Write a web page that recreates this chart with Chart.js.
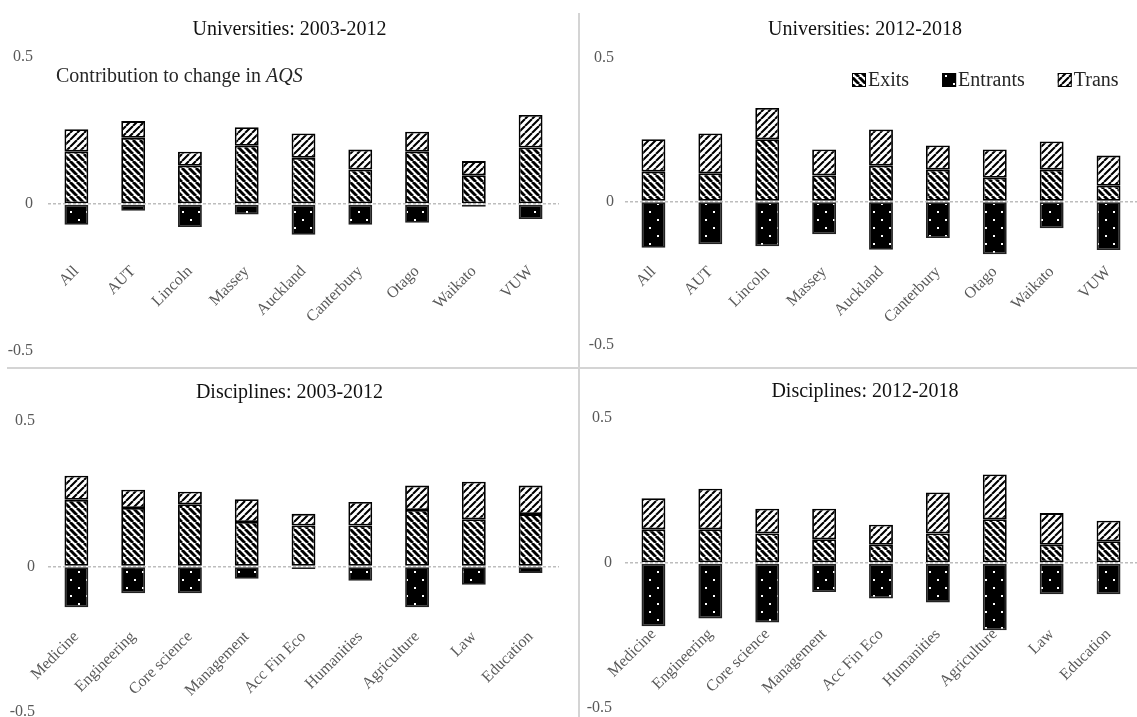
<!DOCTYPE html>
<html>
<head>
<meta charset="utf-8">
<script src="https://cdn.jsdelivr.net/npm/chart.js@4.4.0/dist/chart.umd.min.js"></script>
<style>
  html, body { margin: 0; padding: 0; background: #fff; }
  #fig { position: relative; width: 1137px; height: 717px; overflow: hidden; background: #fff; }
  .panel { position: absolute; overflow: hidden; }
  .panel canvas { position: absolute; left: 0; top: 0; }
  .rule { position: absolute; background: #d4d4d4; }
</style>
</head>
<body>
<div id="fig">
  <div class="panel" style="left:0;top:0;width:579px;height:368px"><canvas id="c1" width="579" height="400"></canvas></div>
  <div class="panel" style="left:579px;top:0;width:558px;height:368px"><canvas id="c2" width="572" height="400"></canvas></div>
  <div class="panel" style="left:0;top:368px;width:579px;height:349px"><canvas id="c3" width="579" height="390"></canvas></div>
  <div class="panel" style="left:579px;top:368px;width:558px;height:349px"><canvas id="c4" width="572" height="390"></canvas></div>
  <div class="rule" style="left:578px;top:13px;width:2px;height:704px"></div>
  <div class="rule" style="left:7px;top:367px;width:1130px;height:2px"></div>
</div>
<script>
// Categories
const universities = ['All', 'AUT', 'Lincoln', 'Massey', 'Auckland', 'Canterbury', 'Otago', 'Waikato', 'VUW'];
const disciplines = ['Medicine', 'Engineering', 'Core science', 'Management', 'Acc Fin Eco', 'Humanities', 'Agriculture', 'Law', 'Education'];

// Series labels
const seriesNames = ['Exits', 'Entrants', 'Trans'];

// Y axis ticks
const yTicks = [-0.5, 0, 0.5];

// Universities: 2003-2012
const uniExits0312    = [0.178, 0.225, 0.130, 0.198, 0.157, 0.117, 0.178, 0.098, 0.192];
const uniEntrants0312 = [-0.071, -0.023, -0.078, -0.036, -0.105, -0.071, -0.064, -0.009, -0.051];
const uniTrans0312    = [0.076, 0.057, 0.048, 0.063, 0.083, 0.068, 0.068, 0.048, 0.111];

// Universities: 2012-2018
const uniExits1218    = [0.104, 0.098, 0.217, 0.091, 0.125, 0.111, 0.083, 0.111, 0.055];
const uniEntrants1218 = [-0.161, -0.149, -0.156, -0.114, -0.168, -0.127, -0.184, -0.093, -0.169];
const uniTrans1218    = [0.113, 0.139, 0.109, 0.090, 0.126, 0.084, 0.098, 0.098, 0.105];

// Disciplines: 2003-2012
const discExits0312    = [0.229, 0.201, 0.214, 0.153, 0.141, 0.141, 0.194, 0.162, 0.180];
const discEntrants0312 = [-0.140, -0.092, -0.092, -0.042, -0.009, -0.049, -0.140, -0.063, -0.022];
const discTrans0312    = [0.083, 0.063, 0.043, 0.078, 0.040, 0.081, 0.084, 0.129, 0.098];

// Disciplines: 2012-2018
const discExits1218    = [0.116, 0.116, 0.102, 0.082, 0.063, 0.102, 0.151, 0.063, 0.075];
const discEntrants1218 = [-0.218, -0.191, -0.205, -0.100, -0.122, -0.136, -0.232, -0.108, -0.108];
const discTrans1218    = [0.107, 0.140, 0.085, 0.105, 0.069, 0.141, 0.154, 0.109, 0.071];

const SERIF = "'Liberation Serif', 'Times New Roman', serif";
Chart.defaults.font.family = SERIF;

// Fill patterns for the three components
function stripePattern(dir, lineW) {
  const s = 7;
  const c = document.createElement('canvas');
  c.width = s; c.height = s;
  const g = c.getContext('2d');
  g.fillStyle = '#fff';
  g.fillRect(0, 0, s, s);
  g.strokeStyle = '#000';
  g.lineWidth = lineW;
  g.beginPath();
  for (let k = -1; k <= 1; k++) {
    const x = k * s;
    if (dir === 'back') { g.moveTo(x, 0); g.lineTo(x + s, s); }
    else { g.moveTo(x, s); g.lineTo(x + s, 0); }
  }
  g.stroke();
  return g.createPattern(c, 'repeat');
}
function dotPattern() {
  const s = 16;
  const c = document.createElement('canvas');
  c.width = s; c.height = s;
  const g = c.getContext('2d');
  g.fillStyle = '#000';
  g.fillRect(0, 0, s, s);
  g.fillStyle = '#fff';
  g.fillRect(6, 3, 2, 2);
  g.fillRect(14, 11, 2, 2);
  return g.createPattern(c, 'repeat');
}
const exitsFill = stripePattern('back', 2.9);
const transFill = stripePattern('fwd', 2.1);
const entrantsFill = dotPattern();

// Series key drawn inside the plot area
const seriesKey = {
  id: 'seriesKey',
  afterDraw(chart, args, opts) {
    if (!opts || !opts.show) return;
    const ctx = chart.ctx;
    ctx.save();
    ctx.font = '20px ' + SERIF;
    ctx.textBaseline = 'middle';
    let x = opts.x;
    const y = opts.y;
    chart.data.datasets.forEach(ds => {
      ctx.fillStyle = ds.backgroundColor;
      ctx.fillRect(x, y - 7, 14, 14);
      ctx.strokeStyle = '#000';
      ctx.lineWidth = 1;
      ctx.strokeRect(x + 0.5, y - 6.5, 13, 13);
      ctx.fillStyle = '#262626';
      ctx.fillText(ds.label, x + 16, y + 1);
      x += 16 + ctx.measureText(ds.label).width + opts.gap;
    });
    ctx.restore();
  }
};

// Caption with an italic symbol
const caption = {
  id: 'caption',
  afterDraw(chart, args, opts) {
    if (!opts || !opts.show) return;
    const ctx = chart.ctx;
    ctx.save();
    ctx.fillStyle = '#262626';
    ctx.textBaseline = 'alphabetic';
    ctx.font = '20px ' + SERIF;
    const lead = 'Contribution to change in ';
    ctx.fillText(lead, opts.x, opts.y);
    const w = ctx.measureText(lead).width;
    ctx.font = 'italic 20px ' + SERIF;
    ctx.fillText('AQS', opts.x + w, opts.y);
    ctx.restore();
  }
};

function panel(id, title, labels, exits, entrants, trans, L, extra) {
  const barPct = 0.42;
  const common = { borderWidth: 1.8, borderSkipped: false, barPercentage: barPct, categoryPercentage: 1 };
  new Chart(document.getElementById(id), {
    type: 'bar',
    data: {
      labels: labels,
      datasets: [
        Object.assign({ label: seriesNames[0], data: exits, backgroundColor: exitsFill, borderColor: '#000' }, common),
        Object.assign({ label: seriesNames[1], data: entrants, backgroundColor: entrantsFill, borderColor: '#222' }, common),
        Object.assign({ label: seriesNames[2], data: trans, backgroundColor: transFill, borderColor: '#000' }, common)
      ]
    },
    options: {
      responsive: false,
      animation: false,
      devicePixelRatio: 1,
      layout: { padding: { left: 0, top: 0, right: 0, bottom: L.padBottom } },
      plugins: {
        legend: { display: false },
        tooltip: { enabled: false },
        title: {
          display: true,
          text: title,
          color: '#111',
          font: { size: 20, weight: 'normal', family: SERIF, lineHeight: 1.2 },
          padding: { top: L.titleTop, bottom: L.titleBottom }
        },
        seriesKey: extra.key || { show: false },
        caption: extra.caption || { show: false }
      },
      scales: {
        x: {
          type: 'category',
          stacked: true,
          position: { y: 0 },
          border: { display: false },
          grid: { display: true, drawOnChartArea: false, drawTicks: true, tickLength: L.labelOffset, color: 'rgba(0,0,0,0)', tickColor: 'rgba(0,0,0,0)' },
          ticks: { autoSkip: false, maxRotation: 45, minRotation: 45, padding: 2, color: '#595959', font: { size: 16, family: SERIF } }
        },
        y: {
          stacked: true,
          min: yTicks[0],
          max: yTicks[yTicks.length - 1],
          afterFit: (s) => { s.width = L.yWidth; },
          afterBuildTicks: (s) => { s.ticks = yTicks.map(v => ({ value: v })); },
          border: { display: false, dash: [3, 2] },
          grid: {
            drawTicks: false,
            lineWidth: 1.5,
            color: (c) => (c.tick && c.tick.value === 0) ? '#bdbdbd' : 'rgba(0,0,0,0)'
          },
          ticks: { padding: L.yPad, color: '#595959', font: { size: 16, family: SERIF } }
        },
        // empty right-hand margin, so the title stays centred on the whole panel
        margin: {
          type: 'linear',
          position: 'right',
          display: true,
          afterFit: (s) => { s.width = L.rightMargin; },
          border: { display: false },
          grid: { display: false, drawTicks: false },
          ticks: { display: false }
        }
      }
    },
    plugins: [seriesKey, caption]
  });
}

// plot areas: left panels x 48..559, right panels x 46..558 (canvas coords)
panel('c1', 'Universities: 2003-2012', universities, uniExits0312, uniEntrants0312, uniTrans0312,
  { yWidth: 48, yPad: 15, titleTop: 18, titleBottom: 15, rightMargin: 20, padBottom: 49, labelOffset: 56 },
  { caption: { show: true, x: 56, y: 82 } });

panel('c2', 'Universities: 2012-2018', universities, uniExits1218, uniEntrants1218, uniTrans1218,
  { yWidth: 46, yPad: 11, titleTop: 18, titleBottom: 16, rightMargin: 14, padBottom: 55, labelOffset: 59 },
  { key: { show: true, x: 273, y: 80, gap: 33 } });

panel('c3', 'Disciplines: 2003-2012', disciplines, discExits0312, discEntrants0312, discTrans0312,
  { yWidth: 48, yPad: 13, titleTop: 13, titleBottom: 16, rightMargin: 20, padBottom: 46, labelOffset: 59 },
  {});

panel('c4', 'Disciplines: 2012-2018', disciplines, discExits1218, discEntrants1218, discTrans1218,
  { yWidth: 46, yPad: 13, titleTop: 12, titleBottom: 14, rightMargin: 14, padBottom: 50, labelOffset: 60 },
  {});
</script>
</body>
</html>
